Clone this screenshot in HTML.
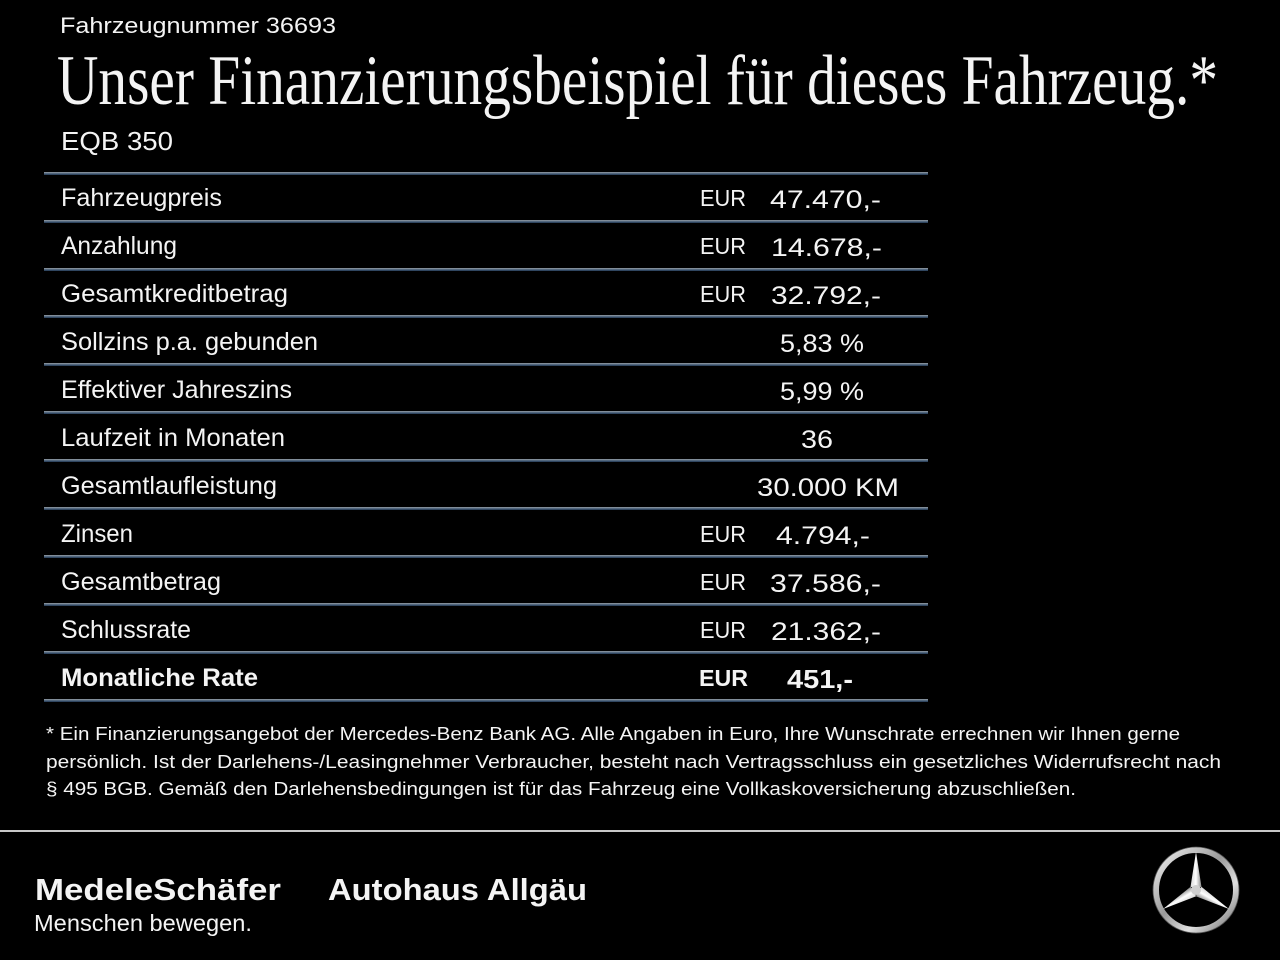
<!DOCTYPE html>
<html>
<head>
<meta charset="utf-8">
<style>
html,body{margin:0;padding:0;background:#000;}
body{width:1280px;height:960px;overflow:hidden;}
svg{display:block;}
text{fill:#f4f4f4;}
.s{font-family:"Liberation Sans",sans-serif;}
.r{font-family:"Liberation Serif",serif;}
</style>
</head>
<body>
<svg width="1280" height="960" viewBox="0 0 1280 960" xmlns="http://www.w3.org/2000/svg">
<defs>
<linearGradient id="ln" x1="0" y1="0" x2="0" y2="1">
<stop offset="0" stop-color="#9aa0a6"/>
<stop offset="0.4" stop-color="#5d7288"/>
<stop offset="1" stop-color="#1e3550"/>
</linearGradient>
<linearGradient id="silver" x1="0" y1="0" x2="1" y2="1">
<stop offset="0" stop-color="#f2f2f2"/>
<stop offset="0.45" stop-color="#9a9a9a"/>
<stop offset="0.7" stop-color="#e0e0e0"/>
<stop offset="1" stop-color="#6a6a6a"/>
</linearGradient>
<linearGradient id="silver2" x1="0" y1="0" x2="1" y2="0">
<stop offset="0" stop-color="#d8d8d8"/>
<stop offset="0.5" stop-color="#ffffff"/>
<stop offset="1" stop-color="#8a8a8a"/>
</linearGradient>
</defs>
<rect x="0" y="0" width="1280" height="960" fill="#000"/>

<!-- header -->
<text class="s" x="60" y="33" font-size="22" textLength="276" lengthAdjust="spacingAndGlyphs">Fahrzeugnummer 36693</text>
<text class="r" x="57" y="104" font-size="71" textLength="1161" lengthAdjust="spacingAndGlyphs">Unser Finanzierungsbeispiel für dieses Fahrzeug.*</text>
<text class="s" x="61" y="150" font-size="26" textLength="112" lengthAdjust="spacingAndGlyphs">EQB 350</text>

<!-- row lines -->
<rect x="44" y="172" width="884" height="3" fill="url(#ln)"/>
<rect x="44" y="220" width="884" height="3" fill="url(#ln)"/>
<rect x="44" y="268" width="884" height="3" fill="url(#ln)"/>
<rect x="44" y="315" width="884" height="3" fill="url(#ln)"/>
<rect x="44" y="363" width="884" height="3" fill="url(#ln)"/>
<rect x="44" y="411" width="884" height="3" fill="url(#ln)"/>
<rect x="44" y="459" width="884" height="3" fill="url(#ln)"/>
<rect x="44" y="507" width="884" height="3" fill="url(#ln)"/>
<rect x="44" y="555" width="884" height="3" fill="url(#ln)"/>
<rect x="44" y="603" width="884" height="3" fill="url(#ln)"/>
<rect x="44" y="651" width="884" height="3" fill="url(#ln)"/>
<rect x="44" y="699" width="884" height="3" fill="url(#ln)"/>

<!-- labels -->
<g class="s" font-size="25">
<text x="61" y="206" textLength="161" lengthAdjust="spacingAndGlyphs">Fahrzeugpreis</text>
<text x="61" y="254" textLength="116" lengthAdjust="spacingAndGlyphs">Anzahlung</text>
<text x="61" y="302" textLength="227" lengthAdjust="spacingAndGlyphs">Gesamtkreditbetrag</text>
<text x="61" y="350" textLength="257" lengthAdjust="spacingAndGlyphs">Sollzins p.a. gebunden</text>
<text x="61" y="398" textLength="231" lengthAdjust="spacingAndGlyphs">Effektiver Jahreszins</text>
<text x="61" y="446" textLength="224" lengthAdjust="spacingAndGlyphs">Laufzeit in Monaten</text>
<text x="61" y="494" textLength="216" lengthAdjust="spacingAndGlyphs">Gesamtlaufleistung</text>
<text x="61" y="542" textLength="72" lengthAdjust="spacingAndGlyphs">Zinsen</text>
<text x="61" y="590" textLength="160" lengthAdjust="spacingAndGlyphs">Gesamtbetrag</text>
<text x="61" y="638" textLength="130" lengthAdjust="spacingAndGlyphs">Schlussrate</text>
<text x="61" y="686" font-weight="bold" textLength="197" lengthAdjust="spacingAndGlyphs">Monatliche Rate</text>
</g>

<!-- EUR -->
<g class="s" font-size="23">
<text x="700" y="206" textLength="46" lengthAdjust="spacingAndGlyphs">EUR</text>
<text x="700" y="254" textLength="46" lengthAdjust="spacingAndGlyphs">EUR</text>
<text x="700" y="302" textLength="46" lengthAdjust="spacingAndGlyphs">EUR</text>
<text x="700" y="542" textLength="46" lengthAdjust="spacingAndGlyphs">EUR</text>
<text x="700" y="590" textLength="46" lengthAdjust="spacingAndGlyphs">EUR</text>
<text x="700" y="638" textLength="46" lengthAdjust="spacingAndGlyphs">EUR</text>
<text x="699" y="686" font-weight="bold" textLength="49" lengthAdjust="spacingAndGlyphs">EUR</text>
</g>

<!-- values -->
<g class="s" font-size="25">
<text x="770" y="208" textLength="111" lengthAdjust="spacingAndGlyphs">47.470,-</text>
<text x="771" y="256" textLength="111" lengthAdjust="spacingAndGlyphs">14.678,-</text>
<text x="771" y="304" textLength="110" lengthAdjust="spacingAndGlyphs">32.792,-</text>
<text x="780" y="352" textLength="84" lengthAdjust="spacingAndGlyphs">5,83 %</text>
<text x="780" y="400" textLength="84" lengthAdjust="spacingAndGlyphs">5,99 %</text>
<text x="801" y="448" textLength="32" lengthAdjust="spacingAndGlyphs">36</text>
<text x="757" y="496" textLength="142" lengthAdjust="spacingAndGlyphs">30.000 KM</text>
<text x="776" y="544" textLength="94" lengthAdjust="spacingAndGlyphs">4.794,-</text>
<text x="770" y="592" textLength="111" lengthAdjust="spacingAndGlyphs">37.586,-</text>
<text x="771" y="640" textLength="110" lengthAdjust="spacingAndGlyphs">21.362,-</text>
<text x="787" y="688" font-weight="bold" font-size="26" textLength="66" lengthAdjust="spacingAndGlyphs">451,-</text>
</g>

<!-- footnote -->
<g class="s" font-size="18">
<text x="46" y="740" textLength="1134" lengthAdjust="spacingAndGlyphs">* Ein Finanzierungsangebot der Mercedes-Benz Bank AG. Alle Angaben in Euro, Ihre Wunschrate errechnen wir Ihnen gerne</text>
<text x="46" y="768" textLength="1175" lengthAdjust="spacingAndGlyphs">persönlich. Ist der Darlehens-/Leasingnehmer Verbraucher, besteht nach Vertragsschluss ein gesetzliches Widerrufsrecht nach</text>
<text x="46" y="795" textLength="1030" lengthAdjust="spacingAndGlyphs">§ 495 BGB. Gemäß den Darlehensbedingungen ist für das Fahrzeug eine Vollkaskoversicherung abzuschließen.</text>
</g>

<!-- footer separator -->
<rect x="0" y="830" width="1280" height="2" fill="#c8c8c8"/>

<!-- logos -->
<text class="s" x="35" y="900" font-size="31" font-weight="bold" textLength="246" lengthAdjust="spacingAndGlyphs">MedeleSchäfer</text>
<text class="s" x="328" y="900" font-size="31" font-weight="bold" textLength="259" lengthAdjust="spacingAndGlyphs">Autohaus Allgäu</text>
<text class="s" x="34" y="931" font-size="23" textLength="218" lengthAdjust="spacingAndGlyphs">Menschen bewegen.</text>

<!-- Mercedes star -->
<g transform="translate(1196,890)">
<circle cx="0" cy="0" r="40" fill="none" stroke="url(#silver)" stroke-width="6"/>
<circle cx="0" cy="0" r="43" fill="none" stroke="#555" stroke-width="0.8"/>
<polygon points="0,-38 5.5,-3 -5.5,-3" fill="url(#silver2)"/>
<polygon points="0,-38 5.5,-3 -5.5,-3" fill="url(#silver2)" transform="rotate(120)"/>
<polygon points="0,-38 5.5,-3 -5.5,-3" fill="url(#silver2)" transform="rotate(240)"/>
<circle cx="0" cy="0" r="5" fill="#cfcfcf"/>
</g>
</svg>
</body>
</html>
